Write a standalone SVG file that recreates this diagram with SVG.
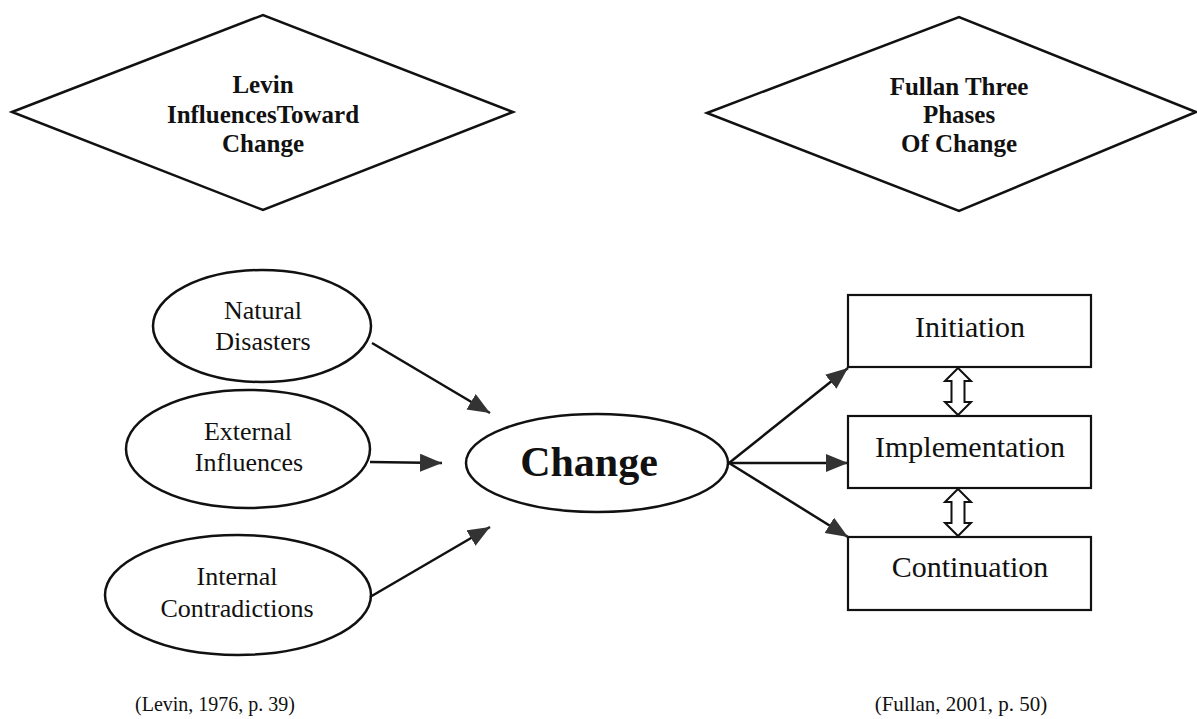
<svg xmlns="http://www.w3.org/2000/svg" width="1197" height="719" viewBox="0 0 1197 719">
<style>
.shape{fill:#fff;stroke:#111;stroke-width:2.5}
.box{fill:#fff;stroke:#111;stroke-width:2.2}
.conn{stroke:#111;stroke-width:2.5;fill:none}
.t{font-family:"Liberation Serif","Times New Roman",serif;fill:#111;text-anchor:middle}
.tb{font-family:"Liberation Serif","Times New Roman",serif;fill:#111;text-anchor:middle;font-weight:bold}
.dbl{fill:#fff;stroke:#111;stroke-width:2}
</style>
<defs>
<marker id="ah" markerUnits="userSpaceOnUse" markerWidth="24" markerHeight="20" refX="22" refY="9" orient="auto">
<path d="M0,0 L22,9 L0,18 z" fill="#333"/>
</marker>
</defs>
<g id="diamond-levin">
<polygon class="shape" points="12,112 263,15 513,112 263,210"/>
<text class="tb" font-size="25" x="263" y="93">Levin</text>
<text class="tb" font-size="25" x="263" y="123">InfluencesToward</text>
<text class="tb" font-size="25" x="263" y="152">Change</text>
</g>
<g id="diamond-fullan">
<polygon class="shape" points="707,113 959,17 1196,112 959,211"/>
<text class="tb" font-size="25" x="959" y="95">Fullan Three</text>
<text class="tb" font-size="25" x="959" y="123">Phases</text>
<text class="tb" font-size="25" x="959" y="152">Of Change</text>
</g>
<g id="natural-disasters">
<ellipse class="shape" cx="262" cy="326" rx="109" ry="56"/>
<text class="t" font-size="26" x="263" y="319">Natural</text>
<text class="t" font-size="26" x="263" y="350">Disasters</text>
</g>
<g id="external-influences">
<ellipse class="shape" cx="248" cy="449" rx="122" ry="59"/>
<text class="t" font-size="26" x="248" y="440">External</text>
<text class="t" font-size="26" x="249" y="471">Influences</text>
</g>
<g id="internal-contradictions">
<ellipse class="shape" cx="238" cy="595" rx="133" ry="60"/>
<text class="t" font-size="26" x="237" y="585">Internal</text>
<text class="t" font-size="26" x="237" y="617">Contradictions</text>
</g>
<g id="change">
<ellipse class="shape" cx="597" cy="463" rx="131" ry="49"/>
<text class="tb" font-size="42" x="589" y="476">Change</text>
</g>
<g id="initiation">
<rect class="box" x="848" y="295" width="243" height="72"/>
<text class="t" font-size="30" x="970" y="337">Initiation</text>
</g>
<g id="implementation">
<rect class="box" x="848" y="416" width="243" height="72"/>
<text class="t" font-size="30" x="970" y="457">Implementation</text>
</g>
<g id="continuation">
<rect class="box" x="848" y="537" width="243" height="73"/>
<text class="t" font-size="30" x="970" y="577">Continuation</text>
</g>
<g id="connectors">
<line class="conn" x1="372" y1="343" x2="490" y2="413" marker-end="url(#ah)"/>
<line class="conn" x1="370" y1="462" x2="442" y2="463" marker-end="url(#ah)"/>
<line class="conn" x1="370" y1="597" x2="490" y2="527" marker-end="url(#ah)"/>
<line class="conn" x1="729" y1="463" x2="848" y2="368" marker-end="url(#ah)"/>
<line class="conn" x1="729" y1="463" x2="848" y2="463" marker-end="url(#ah)"/>
<line class="conn" x1="729" y1="463" x2="848" y2="537" marker-end="url(#ah)"/>
<polygon class="dbl" points="958,368 971,381 964.5,381 964.5,402 971,402 958,415 945,402 951.5,402 951.5,381 945,381"/>
<polygon class="dbl" points="958,489 971,502 964.5,502 964.5,523 971,523 958,536 945,523 951.5,523 951.5,502 945,502"/>
</g>
<g id="captions">
<text class="t" font-size="20" x="215" y="711">(Levin, 1976, p. 39)</text>
<text class="t" font-size="21" x="961" y="711">(Fullan, 2001, p. 50)</text>
</g>
</svg>
